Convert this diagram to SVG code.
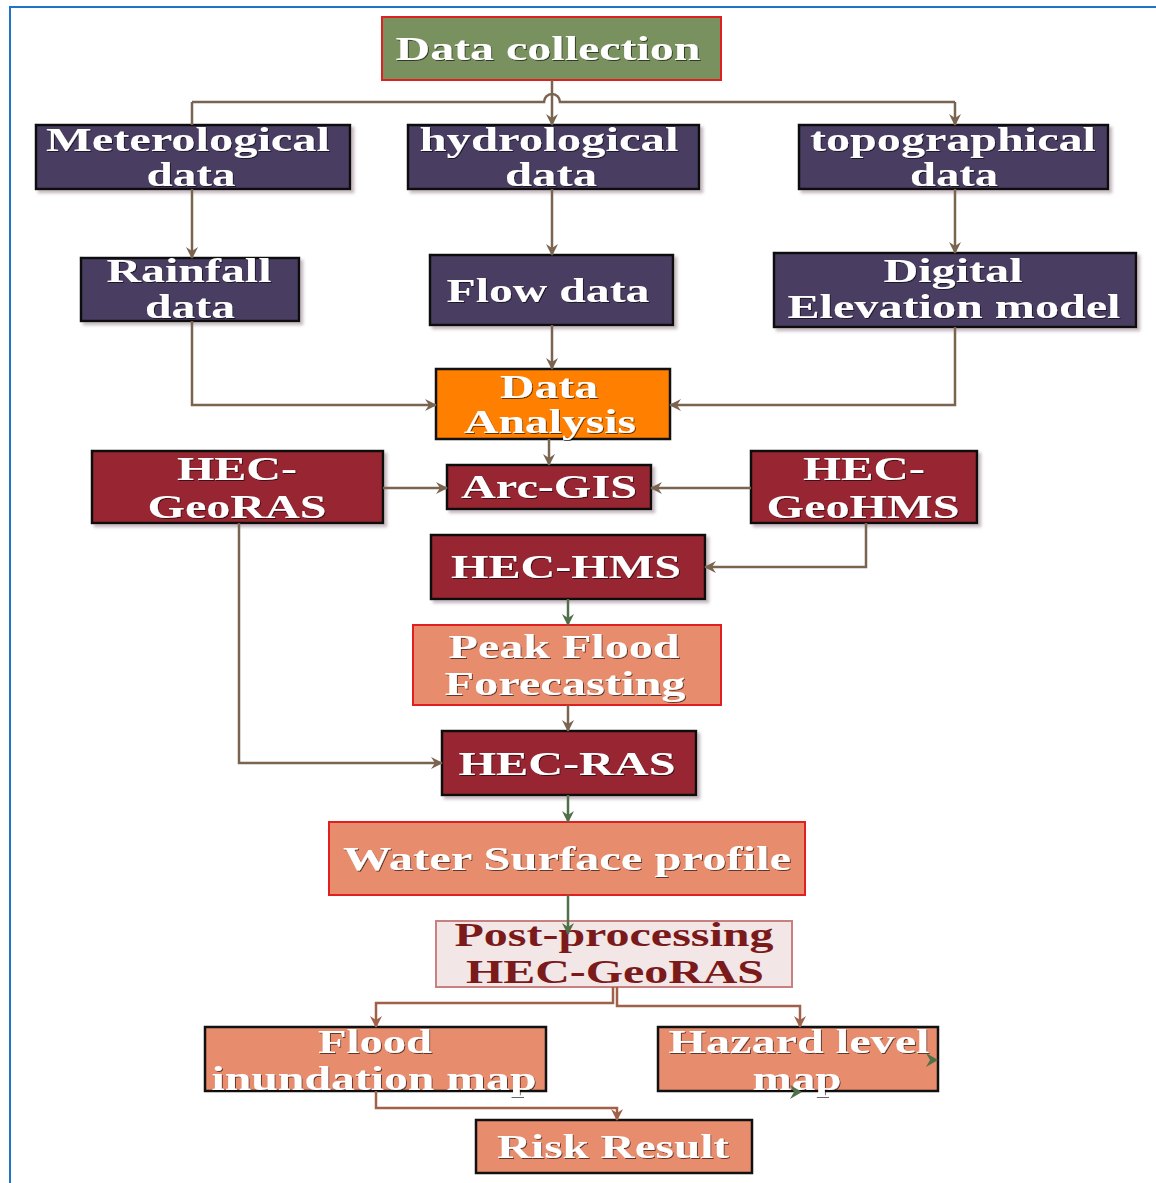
<svg xmlns="http://www.w3.org/2000/svg" width="1156" height="1183" viewBox="0 0 1156 1183">
<defs>
<marker id="ab" markerWidth="14" markerHeight="14" refX="12" refY="7" orient="auto" markerUnits="userSpaceOnUse"><path d="M1,1 L13,7 L1,13 L5,7 z" fill="#7a6450"/></marker>
<marker id="ag" markerWidth="14" markerHeight="14" refX="12" refY="7" orient="auto" markerUnits="userSpaceOnUse"><path d="M1,1 L13,7 L1,13 L5,7 z" fill="#4f7048"/></marker>
<marker id="as" markerWidth="14" markerHeight="14" refX="12" refY="7" orient="auto" markerUnits="userSpaceOnUse"><path d="M1,1 L13,7 L1,13 L5,7 z" fill="#a0604a"/></marker>
<filter id="sh" x="-5%" y="-5%" width="115%" height="130%"><feDropShadow dx="3" dy="3" stdDeviation="1.5" flood-color="#b8a8b0" flood-opacity="0.8"/></filter>
<filter id="ts" x="-5%" y="-10%" width="110%" height="130%"><feDropShadow dx="1" dy="1" stdDeviation="0.6" flood-color="#000" flood-opacity="0.6"/></filter>
</defs>
<style>
text{font-family:"Liberation Serif","Times New Roman",serif;font-weight:bold;font-size:33px;fill:#fff;text-anchor:middle;filter:url(#ts)}
.dk{fill:#7a1a1a;filter:none}
.pu{fill:#483d62;stroke:#111;stroke-width:2.5;filter:url(#sh)}
.rd{fill:#972630;stroke:#111;stroke-width:2.5;filter:url(#sh)}
.sa{fill:#e88c6e;stroke:#111;stroke-width:2.5}
.sr{fill:#e88c6e;stroke:#e02020;stroke-width:2}
.c{fill:none;stroke:#7a6450;stroke-width:2.5}
.g{fill:none;stroke:#4f7048;stroke-width:2.5}
.s{fill:none;stroke:#a0604a;stroke-width:2.5}
</style>
<rect x="0" y="0" width="1156" height="1183" fill="#fff"/>
<rect x="10" y="7" width="1160" height="1190" fill="none" stroke="#1f74c8" stroke-width="2"/>

<g id="n-datacollection">
<rect x="382" y="17" width="339" height="63" fill="#79905f" stroke="#e02020" stroke-width="2"/>
<text x="548" y="60" textLength="305" lengthAdjust="spacingAndGlyphs">Data collection</text>
</g>
<g id="n-meteo">
<rect class="pu" x="36" y="125" width="314" height="64"/>
<text x="188" y="151" textLength="284" lengthAdjust="spacingAndGlyphs">Meterological</text>
<text x="191" y="186" textLength="89" lengthAdjust="spacingAndGlyphs">data</text>
</g>
<g id="n-hydro">
<rect class="pu" x="408" y="125" width="291" height="64"/>
<text x="549" y="151" textLength="259" lengthAdjust="spacingAndGlyphs">hydrological</text>
<text x="551" y="186" textLength="92" lengthAdjust="spacingAndGlyphs">data</text>
</g>
<g id="n-topo">
<rect class="pu" x="799" y="125" width="309" height="64"/>
<text x="953" y="151" textLength="286" lengthAdjust="spacingAndGlyphs">topographical</text>
<text x="954" y="186" textLength="88" lengthAdjust="spacingAndGlyphs">data</text>
</g>
<g id="n-rainfall">
<rect class="pu" x="81" y="258" width="218" height="63"/>
<text x="189" y="282" textLength="165" lengthAdjust="spacingAndGlyphs">Rainfall</text>
<text x="190" y="318" textLength="90" lengthAdjust="spacingAndGlyphs">data</text>
</g>
<g id="n-flow">
<rect class="pu" x="430" y="255" width="243" height="70"/>
<text x="548" y="302" textLength="203" lengthAdjust="spacingAndGlyphs">Flow data</text>
</g>
<g id="n-dem">
<rect class="pu" x="774" y="253" width="362" height="74"/>
<text x="953" y="282" textLength="139" lengthAdjust="spacingAndGlyphs">Digital</text>
<text x="954" y="318" textLength="333" lengthAdjust="spacingAndGlyphs">Elevation model</text>
</g>
<g id="n-analysis">
<rect x="436" y="369" width="234" height="70" fill="#ff8000" stroke="#111" stroke-width="2.5"/>
<text x="549" y="398" textLength="98" lengthAdjust="spacingAndGlyphs">Data</text>
<text x="550" y="433" textLength="172" lengthAdjust="spacingAndGlyphs">Analysis</text>
</g>
<g id="n-georas">
<rect class="rd" x="92" y="451" width="291" height="72"/>
<text x="237" y="480" textLength="120" lengthAdjust="spacingAndGlyphs">HEC-</text>
<text x="237" y="518" textLength="179" lengthAdjust="spacingAndGlyphs">GeoRAS</text>
</g>
<g id="n-arcgis">
<rect class="rd" x="447" y="465" width="204" height="44"/>
<text x="549" y="498" textLength="176" lengthAdjust="spacingAndGlyphs">Arc-GIS</text>
</g>
<g id="n-geohms">
<rect class="rd" x="751" y="451" width="226" height="72"/>
<text x="864" y="480" textLength="122" lengthAdjust="spacingAndGlyphs">HEC-</text>
<text x="863" y="518" textLength="193" lengthAdjust="spacingAndGlyphs">GeoHMS</text>
</g>
<g id="n-hms">
<rect class="rd" x="431" y="535" width="274" height="64"/>
<text x="566" y="578" textLength="230" lengthAdjust="spacingAndGlyphs">HEC-HMS</text>
</g>
<g id="n-peak">
<rect class="sr" x="413" y="625" width="308" height="80"/>
<text x="564" y="658" textLength="231" lengthAdjust="spacingAndGlyphs">Peak Flood</text>
<text x="565" y="695" textLength="241" lengthAdjust="spacingAndGlyphs">Forecasting</text>
</g>
<g id="n-ras">
<rect class="rd" x="442" y="731" width="254" height="64"/>
<text x="567" y="775" textLength="217" lengthAdjust="spacingAndGlyphs">HEC-RAS</text>
</g>
<g id="n-wsp">
<rect class="sr" x="329" y="822" width="476" height="73"/>
<text x="567" y="870" textLength="448" lengthAdjust="spacingAndGlyphs">Water Surface profile</text>
</g>
<g id="n-post">
<rect x="436" y="921" width="356" height="66" fill="#f3e6e6" stroke="#c88080" stroke-width="2"/>
<text class="dk" x="614" y="946" textLength="319" lengthAdjust="spacingAndGlyphs">Post-processing</text>
<text class="dk" x="615" y="983" textLength="298" lengthAdjust="spacingAndGlyphs">HEC-GeoRAS</text>
</g>
<g id="n-flood">
<rect class="sa" x="205" y="1027" width="341" height="64"/>
<text x="375" y="1053" textLength="114" lengthAdjust="spacingAndGlyphs">Flood</text>
<text x="374" y="1090" textLength="325" lengthAdjust="spacingAndGlyphs">inundation map</text>
</g>
<g id="n-hazard">
<rect class="sa" x="658" y="1027" width="280" height="64"/>
<text x="799" y="1053" textLength="261" lengthAdjust="spacingAndGlyphs">Hazard level</text>
<text x="797" y="1090" textLength="89" lengthAdjust="spacingAndGlyphs">map</text>
</g>
<g id="n-risk">
<rect class="sa" x="476" y="1120" width="276" height="53"/>
<text x="613" y="1158" textLength="232" lengthAdjust="spacingAndGlyphs">Risk Result</text>
</g>

<g id="connectors">
<path class="c" d="M192,102 H544 A8,8 0 0 1 560,102 H955"/>
<path class="c" d="M192,102 V125"/>
<path class="c" d="M955,102 V125" marker-end="url(#ab)"/>
<path class="c" d="M552,80 V125" marker-end="url(#ab)"/>
<path class="c" d="M192,189 V258" marker-end="url(#ab)"/>
<path class="c" d="M552,189 V255" marker-end="url(#ab)"/>
<path class="c" d="M955,189 V253" marker-end="url(#ab)"/>
<path class="c" d="M192,321 V405 H436" marker-end="url(#ab)"/>
<path class="c" d="M552,325 V369" marker-end="url(#ab)"/>
<path class="c" d="M955,327 V405 H670" marker-end="url(#ab)"/>
<path class="c" d="M549,439 V465" marker-end="url(#ab)"/>
<path class="c" d="M383,488 H447" marker-end="url(#ab)"/>
<path class="c" d="M751,488 H651" marker-end="url(#ab)"/>
<path class="c" d="M866,523 V567 H705" marker-end="url(#ab)"/>
<path class="c" d="M239,523 V763 H442" marker-end="url(#ab)"/>
<path class="g" d="M568,599 V625" marker-end="url(#ag)"/>
<path class="c" d="M568,705 V731" marker-end="url(#ab)"/>
<path class="g" d="M568,795 V822" marker-end="url(#ag)"/>
<path class="g" d="M568,895 V934" marker-end="url(#ag)"/>
<path class="s" d="M613,987 V1003 H376 V1027" marker-end="url(#as)"/>
<path class="s" d="M617,987 V1006 H800 V1027" marker-end="url(#as)"/>
<path class="s" d="M376,1091 V1108 H617 V1120" marker-end="url(#as)"/>
<path d="M926,1053 L938,1060 L926,1067 L930,1060 z" fill="#4f7048"/>
<path d="M790,1085 L802,1092 L790,1099 L794,1092 z" fill="#4f7048"/>
</g>
</svg>
